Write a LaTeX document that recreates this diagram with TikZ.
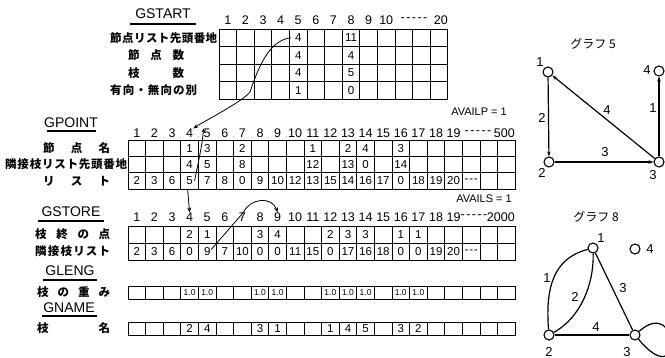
\documentclass[tikz,border=0pt]{standalone}
\usepackage{fontspec}
\setmainfont{Liberation Sans}
\newfontfamily\jp{Noto Sans CJK JP}
\usetikzlibrary{arrows.meta}
\newcommand\dashrun{-\kern1.5pt-\kern1.5pt-\kern1.5pt-\kern1.5pt-}
\newcommand\tripdash{-\kern0.8pt-\kern0.8pt-}
\begin{document}
\begin{tikzpicture}[x=1pt,y=-1pt,
 tbl/.style={line width=0.9pt},
 val/.style={inner sep=0pt,minimum width=17.6pt,minimum height=16pt,font=\fontsize{11.5}{11.5}\selectfont},
 hdr/.style={inner sep=0pt,font=\fontsize{12.5}{12.5}\selectfont},
 ttl/.style={inner sep=0pt,font=\fontsize{14}{14}\selectfont},
 jl/.style={inner sep=0pt,anchor=west,font=\jp\bfseries\fontsize{11.5}{11.5}\selectfont},
 uline/.style={line width=1.1pt},
 arr/.style={line width=0.8pt,-{Stealth[length=5pt,width=4pt]}},
 gn/.style={circle,draw,line width=1.1pt,minimum size=10pt,inner sep=0pt},
 ge/.style={line width=1.2pt},
 gea/.style={ge,-{Stealth[length=5pt,width=3.5pt]}},
 gl/.style={inner sep=0pt,font=\fontsize{13}{13}\selectfont},
 gt/.style={inner sep=0pt,font=\jp\fontsize{12}{12}\selectfont}
]
\clip (0,0) rectangle (665,358);
\fill[white] (0,0) rectangle (665,358);

% ================= GSTART =================
\node[ttl] (tgstart) at (163,14) {GSTART};
\draw[uline] (130,24) -- (196,24);
\foreach \c in {1,...,10} \node[hdr] (gsh\c) at ({219+(\c-0.5)*17.6},20) {\c};
\node[hdr] (gshd) at (414,20) {\dashrun};
\node[hdr,anchor=east] (gsh20) at (448,20) {20};
\draw[tbl] (219,29) rectangle (447.8,99);
\foreach \i in {1,...,12} \draw[tbl] ({219+\i*17.6},29) -- ({219+\i*17.6},99);
\foreach \j in {1,2,3} \draw[tbl] (219,{29+\j*17.5}) -- (447.8,{29+\j*17.5});
\foreach \r/\c/\v in {1/5/4,2/5/4,3/5/4,4/5/1,1/8/11,2/8/4,3/8/5,4/8/0}
  \node[val,minimum height=17.5pt] (gs\r-\c) at ({219+(\c-0.5)*17.6},{29+(\r-0.5)*17.5}) {\v};
\node[jl] (lgs1) at (110,37.75) {\makebox[107pt]{節\hfill 点\hfill リ\hfill ス\hfill ト\hfill 先\hfill 頭\hfill 番\hfill 地}};
\node[jl] (lgs2) at (128,55.25) {\makebox[56pt]{節\hfill 点\hfill 数}};
\node[jl] (lgs3) at (128,72.75) {\makebox[56pt]{枝\hfill 数}};
\node[jl] (lgs4) at (110,90.25) {\makebox[87pt]{有\hfill 向\hfill ・\hfill 無\hfill 向\hfill の\hfill 別}};

% ================= GPOINT =================
\node[ttl] (tgpoint) at (71,123) {GPOINT};
\draw[uline] (47,131) -- (96,131);
\node[hdr,anchor=east,font=\fontsize{11}{11}\selectfont] (availp) at (507,112) {AVAILP = 1};
\foreach \c in {1,...,19} \node[hdr] (gph\c) at ({128+(\c-0.5)*17.6},133) {\c};
\node[hdr] (gphd) at (478,133) {\dashrun};
\node[hdr,anchor=east] (gph500) at (515,133) {500};
\draw[tbl] (128,140) rectangle (515.2,189);
\foreach \i in {1,...,21} \draw[tbl] ({128+\i*17.6},140) -- ({128+\i*17.6},189);
\foreach \j in {1,2} \draw[tbl] (128,{140+\j*16.33}) -- (515.2,{140+\j*16.33});
\foreach \r/\c/\v in {1/4/1,1/5/3,1/7/2,1/11/1,1/13/2,1/14/4,1/16/3,
  2/4/4,2/5/5,2/7/8,2/11/12,2/13/13,2/14/0,2/16/14,
  3/1/2,3/2/3,3/3/6,3/4/5,3/5/7,3/6/8,3/7/0,3/8/9,3/9/10,3/10/12,3/11/13,3/12/15,
  3/13/14,3/14/16,3/15/17,3/16/0,3/17/18,3/18/19,3/19/20,3/20/\tripdash}
  \node[val] (gp\r-\c) at ({128+(\c-0.5)*17.6},{140+(\r-0.5)*16.33}) {\v};
\node[jl] (lgp1) at (43,148.2) {\makebox[67pt]{節\hfill 点\hfill 名}};
\node[jl] (lgp2) at (5,164.5) {\makebox[122pt]{隣\hfill 接\hfill 枝\hfill リ\hfill ス\hfill ト\hfill 先\hfill 頭\hfill 番\hfill 地}};
\node[jl] (lgp3) at (43,180.8) {\makebox[67pt]{リ\hfill ス\hfill ト}};

% ================= GSTORE =================
\node[ttl] (tgstore) at (71,212) {GSTORE};
\draw[uline] (38,221) -- (104,221);
\node[hdr,anchor=east,font=\fontsize{11}{11}\selectfont] (avails) at (512,199) {AVAILS = 1};
\foreach \c in {1,...,19} \node[hdr] (gsth\c) at ({128+(\c-0.5)*17.6},217) {\c};
\node[hdr] (gsthd) at (474,217) {\dashrun};
\node[hdr,anchor=east] (gsth2000) at (515,217) {2000};
\draw[tbl] (128,226) rectangle (515.2,260);
\foreach \i in {1,...,21} \draw[tbl] ({128+\i*17.6},226) -- ({128+\i*17.6},260);
\draw[tbl] (128,243) -- (515.2,243);
\foreach \r/\c/\v in {1/4/2,1/5/1,1/8/3,1/9/4,1/12/2,1/13/3,1/14/3,1/16/1,1/17/1,
  2/1/2,2/2/3,2/3/6,2/4/0,2/5/9,2/6/7,2/7/10,2/8/0,2/9/0,2/10/11,2/11/15,2/12/0,
  2/13/17,2/14/16,2/15/18,2/16/0,2/17/0,2/18/19,2/19/20,2/20/\tripdash}
  \node[val,minimum height=17pt] (gst\r-\c) at ({128+(\c-0.5)*17.6},{226+(\r-0.5)*17}) {\v};
\node[jl] (lgst1) at (35,234.5) {\makebox[75pt]{枝\hfill 終\hfill の\hfill 点}};
\node[jl] (lgst2) at (35,251.5) {\makebox[75pt]{隣\hfill 接\hfill 枝\hfill リ\hfill ス\hfill ト}};

% ================= GLENG =================
\node[ttl] (tgleng) at (70,271) {GLENG};
\draw[uline] (43,280) -- (97,280);
\draw[tbl] (128,286) rectangle (515.2,299);
\foreach \i in {1,...,21} \draw[tbl] ({128+\i*17.6},286) -- ({128+\i*17.6},299);
\foreach \c in {4,5,8,9,12,13,14,16,17}
  \node[val,minimum height=13pt,font=\fontsize{8.5}{8.5}\selectfont] (gl\c) at ({128+(\c-0.5)*17.6},292.5) {1.0};
\node[jl] (lgl) at (37,292.5) {\makebox[73pt]{枝\hfill の\hfill 重\hfill み}};

% ================= GNAME =================
\node[ttl] (tgname) at (69,308) {GNAME};
\draw[uline] (42,316) -- (97,316);
\draw[tbl] (128,322) rectangle (515.2,335);
\foreach \i in {1,...,21} \draw[tbl] ({128+\i*17.6},322) -- ({128+\i*17.6},335);
\foreach \c/\v in {4/2,5/4,8/3,9/1,12/1,13/4,14/5,16/3,17/2}
  \node[val,minimum height=13pt] (gnm\c) at ({128+(\c-0.5)*17.6},328.5) {\v};
\node[jl] (lgn) at (37,328.5) {\makebox[73pt]{枝\hfill 名}};

% ================= connectors =================
\draw[arr] ([xshift=2pt]gs1-5.west) .. controls +(-20,2) and +(10,-30) .. (250,92)
  .. controls +(-8,10) and +(12,-8) .. (gph4.north east);
\draw[line width=0.8pt,-{Stealth[length=4pt,width=3pt]}] ([xshift=5pt]gp3-4.center) .. controls +(4,-20) and +(-1,15) .. (gph5.north west);
\draw[arr] ([xshift=-2pt]gp3-4.south) -- (gsth4.north);
\draw[arr] ([xshift=4pt,yshift=2pt]gst2-5.center) -- ([xshift=1pt]gsth7.north)
  .. controls (250,198) and (272,196) .. (gsth9.north);

% ================= Graph 5 =================
\node[gt] (g5t) at (593,44) {グラフ 5};
\node[gn] (n1) at (548,72) {};
\node[gn] (n4) at (659,71) {};
\node[gn] (n2) at (549,162) {};
\node[gn] (n3) at (659,162) {};
\node[gl] (n1l) at (540,62) {1};
\node[gl] (n4l) at (647,70) {4};
\node[gl] (n2l) at (542,173) {2};
\node[gl] (n3l) at (653,175) {3};
\draw[gea] (n1) -- (n2);
\draw[gea] (n3) -- (n1);
\draw[gea] (n3) -- (n4);
\draw[gea] (n2) -- (n3);
\node[gl] (e5a) at (542,118) {2};
\node[gl] (e5b) at (607,110) {4};
\node[gl] (e5c) at (653,108) {1};
\node[gl] (e5d) at (605,152) {3};

% ================= Graph 8 =================
\node[gt] (g8t) at (596,217) {グラフ 8};
\node[gn] (m1) at (593,248) {};
\node[gn] (m4) at (635,249) {};
\node[gn] (m2) at (549,335) {};
\node[gn] (m3) at (635,335) {};
\node[gl] (m1l) at (601,238) {1};
\node[gl] (m4l) at (650,249) {4};
\node[gl] (m2l) at (549,352) {2};
\node[gl] (m3l) at (627,352) {3};
\draw[ge] (m1) .. controls (555,258) and (545,285) .. (m2);
\draw[ge] (m1) .. controls (594,285) and (580,318) .. (m2);
\draw[ge] (m1) -- (m3);
\draw[ge] (m2) -- (m3);
\draw[ge] (m3) .. controls (680,295) and (685,395) .. (m3);
\node[gl] (e8a) at (547,278) {1};
\node[gl] (e8b) at (575,297) {2};
\node[gl] (e8c) at (623,288) {3};
\node[gl] (e8d) at (596,327) {4};
\end{tikzpicture}
\end{document}
